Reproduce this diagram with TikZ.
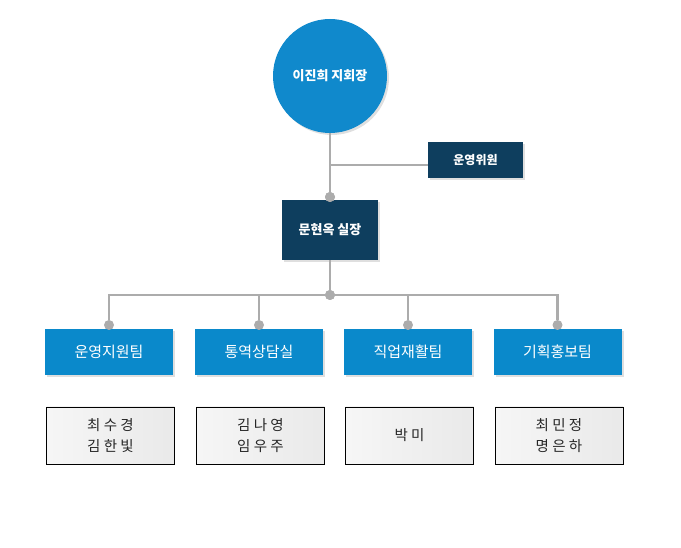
\documentclass[tikz,border=0pt]{standalone}
\usepackage{fontspec}
\setmainfont{Noto Sans CJK KR}
\usetikzlibrary{shadows}
\definecolor{headblue}{RGB}{16,137,204}
\definecolor{navy}{RGB}{14,62,94}
\definecolor{teamblue}{RGB}{10,137,203}
\definecolor{linegray}{RGB}{172,172,172}
\tikzset{
  shad/.style={drop shadow={shadow xshift=2pt,shadow yshift=-2pt,fill=gray!35,opacity=.7}},
  chief/.style={circle,fill=headblue,minimum size=114pt,inner sep=0pt,text=white,font=\bfseries\fontsize{13}{15}\selectfont,shad},
  dark/.style={fill=navy,text=white,inner sep=0pt,font=\bfseries\fontsize{13}{15}\selectfont,shad},
  team/.style={fill=teamblue,text=white,minimum width=128pt,minimum height=46pt,inner sep=0pt,font=\fontsize{15}{17}\selectfont,shad},
  member/.style={draw=black,left color=gray!7,right color=gray!17,minimum width=128pt,minimum height=57pt,inner sep=0pt,align=center,text=black!85,font=\fontsize{14.5}{21}\selectfont},
  conn/.style={draw=linegray,line width=2.5pt},
  dot/.style={circle,fill=linegray,minimum size=10pt,inner sep=0pt},
}
\begin{document}
\begin{tikzpicture}[x=1pt,y=-1pt]
  \useasboundingbox (0,0) rectangle (681,548);

  \node[chief] (C) at (330,76) {이진희 지회장};
  \node[dark,minimum width=95pt,minimum height=36pt,font=\bfseries\fontsize{12}{14}\selectfont] (W) at (475.5,160) {운영위원};
  \node[dark,minimum width=96pt,minimum height=60pt] (S) at (330,230) {문현옥 실장};
  \coordinate (b) at (330,165);
  \node[dot] (d0) at (330,197) {};
  \node[dot] (d1) at (330,295) {};

  \draw[conn] (C) -- (d0);
  \draw[conn] (b) -- (b -| W.west);
  \draw[conn] (S) -- (d1);

  % teams and members
  \foreach \i/\x/\t/\m in {1/109/운영지원팀/{최 수 경\\김 한 빛},
                           2/259/통역상담실/{김 나 영\\임 우 주},
                           3/408/직업재활팀/{박 미},
                           4/557.5/기획홍보팀/{최 민 정\\명 은 하}}{
    \node[team] (T\i) at (\x,352) {\t};
    \node[member] (M\i) at (\x+1.5,435.5) {\m};
    \node[dot] (p\i) at (\x,325) {};
    \draw[conn] (d1) -| (p\i);
  }
  \node[dot] at (d0) {};
  \node[dot] at (d1) {};
\end{tikzpicture}
\end{document}
